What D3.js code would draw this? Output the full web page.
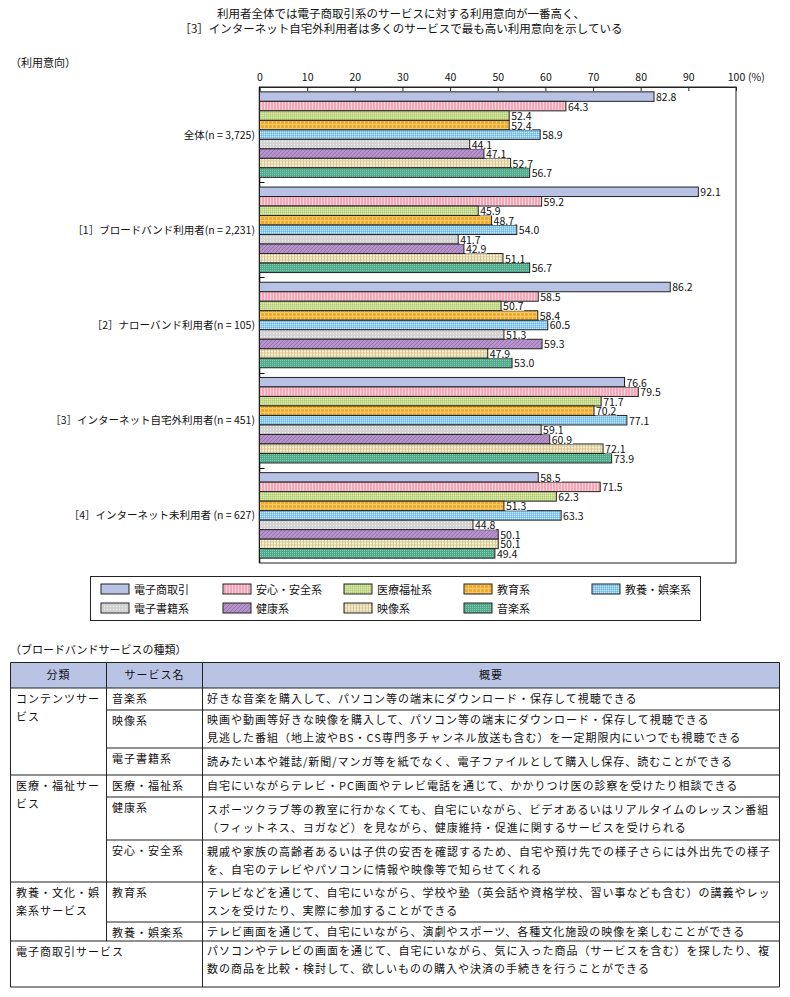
<!DOCTYPE html>
<html><head><meta charset="utf-8">
<script src="https://cdn.jsdelivr.net/npm/d3@7"></script>
<style>
body{margin:0;background:#fff;}
text{font-family:"Noto Sans CJK JP","Noto Sans",sans-serif;fill:#111;}
</style>
</head><body>
<svg id="c" width="790" height="997"></svg>
<script>
// ---------- DATA ----------
const titleLines = [
  "利用者全体では電子商取引系のサービスに対する利用意向が一番高く、",
  "［3］インターネット自宅外利用者は多くのサービスで最も高い利用意向を示している"
];
const yAxisTitle = "（利用意向）";
const categories = [
  "全体(n = 3,725)",
  "［1］ブロードバンド利用者(n = 2,231)",
  "［2］ナローバンド利用者(n = 105)",
  "［3］インターネット自宅外利用者(n = 451)",
  "［4］インターネット未利用者 (n = 627)"
];
const seriesNames = ["電子商取引","安心・安全系","医療福祉系","教育系","教養・娯楽系","電子書籍系","健康系","映像系","音楽系"];
const ecommerce = [82.8, 92.1, 86.2, 76.6, 58.5];
const safety    = [64.3, 59.2, 58.5, 79.5, 71.5];
const medical   = [52.4, 45.9, 50.7, 71.7, 62.3];
const education = [52.4, 48.7, 58.4, 70.2, 51.3];
const culture   = [58.9, 54.0, 60.5, 77.1, 63.3];
const ebook     = [44.1, 41.7, 51.3, 59.1, 44.8];
const health    = [47.1, 42.9, 59.3, 60.9, 50.1];
const video     = [52.7, 51.1, 47.9, 72.1, 50.1];
const music     = [56.7, 56.7, 53.0, 73.9, 49.4];
const tickValues = [0,10,20,30,40,50,60,70,80,90,100];
const unitLabel = "(%)";

const tableTitle = "（ブロードバンドサービスの種類）";
const tableHeader = ["分類","サービス名","概要"];
const tableGroups = [
  {name:["コンテンツサー","ビス"], rows:3},
  {name:["医療・福祉サー","ビス"], rows:3},
  {name:["教養・文化・娯","楽系サービス"], rows:2},
  {name:["電子商取引サービス"], rows:1, merged:true}
];
const tableServices = ["音楽系","映像系","電子書籍系","医療・福祉系","健康系","安心・安全系","教育系","教養・娯楽系",""];
const tableDescriptions = [
  ["好きな音楽を購入して、パソコン等の端末にダウンロード・保存して視聴できる"],
  ["映画や動画等好きな映像を購入して、パソコン等の端末にダウンロード・保存して視聴できる","見逃した番組（地上波やBS・CS専門多チャンネル放送も含む）を一定期限内にいつでも視聴できる"],
  ["読みたい本や雑誌/新聞/マンガ等を紙でなく、電子ファイルとして購入し保存、読むことができる"],
  ["自宅にいながらテレビ・PC画面やテレビ電話を通じて、かかりつけ医の診察を受けたり相談できる"],
  ["スポーツクラブ等の教室に行かなくても、自宅にいながら、ビデオあるいはリアルタイムのレッスン番組","（フィットネス、ヨガなど）を見ながら、健康維持・促進に関するサービスを受けられる"],
  ["親戚や家族の高齢者あるいは子供の安否を確認するため、自宅や預け先での様子さらには外出先での様子","を、自宅のテレビやパソコンに情報や映像等で知らせてくれる"],
  ["テレビなどを通じて、自宅にいながら、学校や塾（英会話や資格学校、習い事なども含む）の講義やレッ","スンを受けたり、実際に参加することができる"],
  ["テレビ画面を通じて、自宅にいながら、演劇やスポーツ、各種文化施設の映像を楽しむことができる"],
  ["パソコンやテレビの画面を通じて、自宅にいながら、気に入った商品（サービスを含む）を探したり、複","数の商品を比較・検討して、欲しいものの購入や決済の手続きを行うことができる"]
];

// ---------- BUILD ----------
const seriesValues = [ecommerce, safety, medical, education, culture, ebook, health, video, music];
const svg = d3.select("#c");
const defs = svg.append("defs");

function pat(id, w, h, base, draw){
  const p = defs.append("pattern").attr("id",id).attr("patternUnits","userSpaceOnUse").attr("width",w).attr("height",h);
  p.append("rect").attr("width",w).attr("height",h).attr("fill",base);
  draw && draw(p);
}
const fills = [];
pat("p0",4,4,"#b8c2e4"); fills.push("url(#p0)");
pat("p1",3,3,"#f3a7b7",p=>p.append("rect").attr("x",0).attr("width",1).attr("height",3).attr("fill","#fbd3dc")); fills.push("url(#p1)");
pat("p2",2,2,"#c7dc8e",p=>{p.append("rect").attr("width",1).attr("height",1).attr("fill","#b1c972");p.append("rect").attr("x",1).attr("y",1).attr("width",1).attr("height",1).attr("fill","#dbe9b0");}); fills.push("url(#p2)");
pat("p3",4,4,"#eeab2f",p=>{p.append("rect").attr("width",4).attr("height",1).attr("fill","#f5c869");p.append("rect").attr("width",1).attr("height",4).attr("fill","#f5c869");}); fills.push("url(#p3)");
pat("p4",2,2,"#8fcaf0",p=>{p.append("rect").attr("width",1).attr("height",1).attr("fill","#c8e6fa");p.append("rect").attr("x",1).attr("y",1).attr("width",1).attr("height",1).attr("fill","#6cb6e6");}); fills.push("url(#p4)");
pat("p5",3,3,"#d3d3d3",p=>{p.append("rect").attr("width",1).attr("height",1).attr("fill","#f0f0f0");}); fills.push("url(#p5)");
pat("p6",4,4,"#b592ca",p=>p.append("path").attr("d","M0,4 L4,0 M-1,1 L1,-1 M3,5 L5,3").attr("stroke","#9a76b2").attr("stroke-width",1)); fills.push("url(#p6)");
pat("p7",3,3,"#e8ddb2",p=>{p.append("rect").attr("width",3).attr("height",1).attr("fill","#f6f0dc");p.append("rect").attr("width",1).attr("height",3).attr("fill","#d8c996");}); fills.push("url(#p7)");
pat("p8",2,2,"#4fab8b",p=>{p.append("rect").attr("width",1).attr("height",1).attr("fill","#86cbb0");}); fills.push("url(#p8)");

// title
svg.selectAll("text.title").data(titleLines).join("text")
  .attr("class","title").attr("x",401).attr("y",(d,i)=>18+i*15)
  .attr("text-anchor","middle").style("font-size","11.5px").text(d=>d);
svg.append("text").attr("x",10).attr("y",67).style("font-size","11px").text(yAxisTitle);

// scales
const x = d3.scaleLinear().domain([0,100]).range([259.5,736]);
const y0 = d3.scaleBand().domain(categories).range([87,563]).paddingInner(0).paddingOuter(0);
const y1 = d3.scaleBand().domain(seriesNames).range([0,y0.bandwidth()]).paddingInner(0).paddingOuter(0.51);

// frame
svg.append("rect").attr("x",x(0)).attr("y",87).attr("width",x(100)-x(0)).attr("height",563-87)
  .attr("fill","none").attr("stroke","#222").attr("stroke-width",1);

// top axis
const ax = svg.append("g").attr("transform","translate(0,87)")
  .call(d3.axisTop(x).tickValues(tickValues).tickSizeInner(-4).tickSizeOuter(0).tickPadding(6).tickFormat(d3.format("d")));
ax.select(".domain").attr("stroke","#222");
ax.selectAll(".tick line").attr("stroke","#222");
ax.selectAll(".tick text").style("font-size","10.5px").style("font-family",'"Noto Sans CJK JP",sans-serif').attr("fill","#111");
svg.append("text").attr("x",x(100)+12).attr("y",81).style("font-size","10.5px").text(unitLabel);

// left axis line + group ticks
svg.append("line").attr("x1",x(0)).attr("x2",x(0)).attr("y1",87).attr("y2",563).attr("stroke","#111").attr("stroke-width",1.5);
svg.selectAll("line.gt").data(categories.slice(1)).join("line").attr("class","gt")
  .attr("x1",x(0)).attr("x2",x(0)+5).attr("y1",d=>Math.round(y0(d))+0.5).attr("y2",d=>Math.round(y0(d))+0.5)
  .attr("stroke","#111");

// category labels
svg.selectAll("text.cat").data(categories).join("text").attr("class","cat")
  .attr("x",255).attr("y",d=>y0(d)+y0.bandwidth()/2+4).attr("text-anchor","end")
  .style("font-size","10.5px").text(d=>d);

// bars
const flat = [];
categories.forEach((c,ci)=>seriesNames.forEach((s,si)=>flat.push({c,s,si,v:seriesValues[si][ci]})));
const bars = svg.append("g");
bars.selectAll("rect").data(flat).join("rect")
  .attr("x",x(0)).attr("y",d=>y0(d.c)+y1(d.s)).attr("width",d=>x(d.v)-x(0)).attr("height",y1.bandwidth())
  .attr("fill",d=>fills[d.si]).attr("stroke","#222").attr("stroke-width",1);

// value labels
const fmt = d3.format(".1f");
const lab = svg.append("g").selectAll("g").data(flat).join("g")
  .attr("transform",d=>`translate(${x(d.v)+1},${y0(d.c)+y1(d.s)})`);
lab.append("text").attr("x",1).attr("y",y1.bandwidth()-0.3).style("font-size","10.5px").text(d=>fmt(d.v));
lab.each(function(){
  const g=d3.select(this); const t=g.select("text").node(); const bb=t.getBBox();
  g.insert("rect","text").attr("x",0.5).attr("y",1.2).attr("width",bb.width+1).attr("height",y1.bandwidth()-1.2).attr("fill","#fff");
});

// legend
svg.append("rect").attr("x",90.5).attr("y",576.5).attr("width",610).attr("height",44).attr("fill","#fff").attr("stroke","#222");
const legX = [101,223,344,464,592];
const lg = svg.selectAll("g.leg").data(seriesNames).join("g").attr("class","leg")
  .attr("transform",(d,i)=>`translate(${legX[i%5]},${584+Math.floor(i/5)*19})`);
lg.append("rect").attr("width",28).attr("height",10).attr("fill",(d,i)=>fills[i]).attr("stroke","#222");
lg.append("text").attr("x",33).attr("y",9.5).style("font-size","11px").text(d=>d);

// table
svg.append("text").attr("x",10).attr("y",654).style("font-size","11px").text(tableTitle);
const colX = [10.5,106.5,202.5,779.5];
const rowH = [22,38,27,22,43,42,40,19,46];
const tTop = 662.5, hdrH = 25.5;
const rowTop = []; { let yy=tTop+hdrH; rowH.forEach(h=>{rowTop.push(yy); yy+=h;}); }
const tBottom = rowTop[rowTop.length-1]+rowH[rowH.length-1];
const tg = svg.append("g");
tg.append("rect").attr("x",colX[0]).attr("y",tTop).attr("width",colX[3]-colX[0]).attr("height",hdrH).attr("fill","#b9c3e4");
tg.selectAll("text.h").data(tableHeader).join("text").attr("class","h")
  .attr("x",(d,i)=>(colX[i]+colX[i+1])/2).attr("y",tTop+hdrH/2+4).attr("text-anchor","middle")
  .style("font-size","11px").style("letter-spacing","1px").text(d=>d);
let gi=0; const groupStart=[];
tableGroups.forEach(g=>{groupStart.push(gi); gi+=g.rows;});
const hl = [];
hl.push({y:tTop,x1:colX[0]}); hl.push({y:tTop+hdrH,x1:colX[0]});
rowTop.forEach((t,i)=>{ if(i===0) return; hl.push({y:t,x1:groupStart.includes(i)?colX[0]:colX[1]}); });
hl.push({y:tBottom,x1:colX[0]});
tg.selectAll("line.hl").data(hl).join("line").attr("class","hl")
  .attr("x1",d=>d.x1).attr("x2",colX[3]).attr("y1",d=>d.y).attr("y2",d=>d.y).attr("stroke","#222");
const lastTop = rowTop[rowTop.length-1];
const vl = [{x:colX[0],y2:tBottom},{x:colX[1],y2:lastTop},{x:colX[2],y2:tBottom},{x:colX[3],y2:tBottom}];
tg.selectAll("line.vl").data(vl).join("line").attr("class","vl")
  .attr("x1",d=>d.x).attr("x2",d=>d.x).attr("y1",tTop).attr("y2",d=>d.y2).attr("stroke","#222");
tableGroups.forEach((g,k)=>{
  const t = rowTop[groupStart[k]];
  g.name.forEach((ln,j)=>tg.append("text").attr("x",16).attr("y",t+15+j*18).style("font-size","11px").style("letter-spacing","1px").text(ln));
});
tableServices.forEach((s,i)=>{ if(!s) return;
  tg.append("text").attr("x",112).attr("y",rowTop[i]+15).style("font-size","11px").style("letter-spacing","1px").text(s);
});
tableDescriptions.forEach((lines,i)=>{
  const n=lines.length; const c=rowTop[i]+rowH[i]/2;
  const start = (i===tableDescriptions.length-1) ? rowTop[i]+14 : c-(n-1)*9+4;
  lines.forEach((ln,j)=>tg.append("text").attr("x",207).attr("y",start+j*18).style("font-size","11px").style("letter-spacing","1px").text(ln));
});
</script>
</body></html>
